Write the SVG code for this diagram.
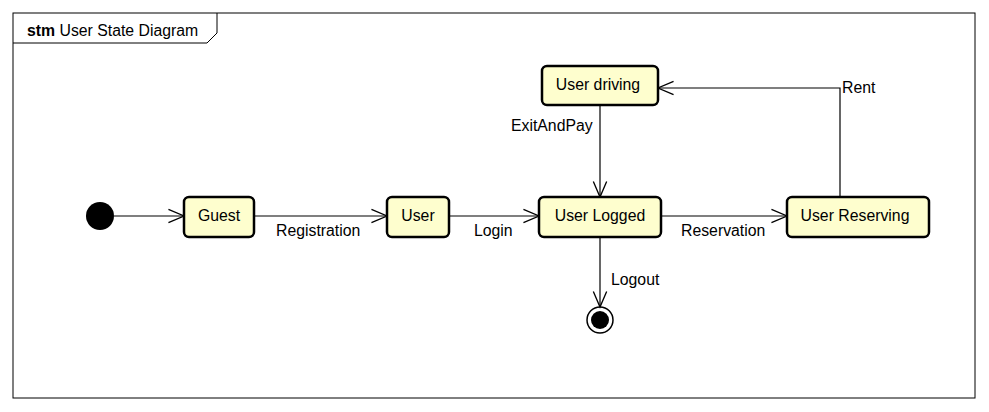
<svg xmlns="http://www.w3.org/2000/svg" width="989" height="412" viewBox="0 0 989 412">
<style>
text{font-family:"Liberation Sans",Arial,sans-serif;font-size:15.8px;fill:#000}
.st rect{fill:#FEFECE;stroke:#000;stroke-width:2.5}
.st text{text-anchor:middle}
.c{fill:none;stroke:#000;stroke-width:1.2}
</style>
<defs>
<marker id="a" markerUnits="userSpaceOnUse" markerWidth="20" markerHeight="20" viewBox="-16 -8 18 16" refX="0" refY="0" orient="auto">
<path d="M-14,-6 L0,0 L-14,6" fill="none" stroke="#000" stroke-width="1.2"/>
</marker>
</defs>
<rect width="989" height="412" fill="#fff"/>
<g id="frame">
<rect x="13" y="13" width="962" height="385" fill="none" stroke="#000" stroke-width="1"/>
<path d="M13,43 H207 L217,33 V13" fill="none" stroke="#000" stroke-width="1"/>
<text x="27" y="36"><tspan font-weight="bold">stm</tspan> User State Diagram</text>
</g>
<g id="connectors">
<path class="c" d="M114,216 H184" marker-end="url(#a)"/>
<path class="c" d="M254,216 H387" marker-end="url(#a)"/>
<text x="276" y="236">Registration</text>
<path class="c" d="M449,216 H539" marker-end="url(#a)"/>
<text x="474" y="236">Login</text>
<path class="c" d="M661,216 H787" marker-end="url(#a)"/>
<text x="681" y="236">Reservation</text>
<path class="c" d="M600,105 V197" marker-end="url(#a)"/>
<text x="511" y="131">ExitAndPay</text>
<path class="c" d="M840,197 V88 H658" marker-end="url(#a)"/>
<text x="842" y="93">Rent</text>
<path class="c" d="M600,237 V307" marker-end="url(#a)"/>
<text x="611" y="285">Logout</text>
</g>
<g id="initial"><circle cx="100" cy="216" r="14" fill="#000"/></g>
<g id="guest" class="st"><rect x="184" y="197" width="70" height="40" rx="5"/><text x="219" y="221">Guest</text></g>
<g id="user" class="st"><rect x="387" y="197" width="62" height="40" rx="5"/><text x="418" y="221">User</text></g>
<g id="userLogged" class="st"><rect x="539" y="197" width="122" height="40" rx="5"/><text x="600" y="221">User Logged</text></g>
<g id="userReserving" class="st"><rect x="787" y="197" width="142" height="40" rx="5"/><text x="855" y="221">User Reserving</text></g>
<g id="userDriving" class="st"><rect x="542" y="66" width="116" height="39" rx="5"/><text x="598" y="90">User driving</text></g>
<g id="final"><circle cx="600" cy="320" r="13" fill="none" stroke="#000" stroke-width="1.5"/><circle cx="600" cy="320" r="9" fill="#000"/></g>
</svg>
